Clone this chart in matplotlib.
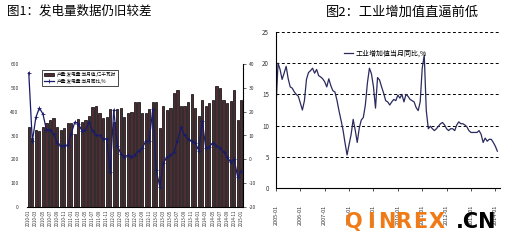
import matplotlib
matplotlib.use('Agg')
import matplotlib.pyplot as plt
import numpy as np

plt.rcParams['font.family'] = ['Noto Sans CJK SC', 'DejaVu Sans']
plt.rcParams['axes.unicode_minus'] = False

# ---- chart 1 data: monthly power generation (bars) and yoy growth (line)
gen_months = ['%d-%02d' % (2010 + m // 12, m % 12 + 1) for m in range(61)]
gen_output = [337, 290, 323, 319, 337, 351, 365, 375, 337, 323, 330, 351,
              351, 306, 368, 358, 365, 383, 421, 423, 393, 372, 379, 413,
              358, 413, 417, 379, 396, 400, 442, 442, 396, 396, 410, 440,
              442, 330, 424, 407, 417, 479, 493, 424, 424, 440, 475, 417,
              382, 451, 422, 437, 451, 507, 500, 451, 437, 444, 490, 365, 451]
gen_yoy = [36.4, 7.5, 17.6, 21.6, 19.0, 12.3, 12.5, 10.6, 7.0, 5.6, 5.8, 6.0,
           10.8, 15.6, 15.0, 12.0, 12.4, 15.6, 12.0, 10.0, 10.0, 8.6, 8.6, -5.3,
           20.8, 5.8, 2.4, 1.0, 1.7, 1.0, 2.0, 3.5, 4.6, 7.5, 7.5, 21.0,
           -4.6, -11.5, -1.7, 1.0, 1.8, 3.0, 7.9, 13.5, 10.0, 8.6, 7.5, 7.0,
           3.7, 16.2, 4.6, 5.3, 7.0, 5.8, 4.6, 3.2, 1.0, -1.1, 0.0, -7.4, -5.0]
gen_labels = ['产量:发电量:当月值,亿千瓦时', '产量:发电量:当月同比,%']

# ---- chart 2 data: industrial value added yoy, monthly from 2005-01
iva_yoy = [13.0, 20.0, 19.0, 17.4, 18.4, 19.5, 17.5, 16.2, 16.0, 15.4, 15.0, 14.7,
           13.6, 12.5, 14.0, 17.4, 18.5, 18.8, 19.2, 18.4, 19.0, 18.0, 17.8, 17.5,
           17.0, 16.2, 17.5, 16.4, 15.6, 15.4, 14.1, 12.4, 10.9, 9.3, 7.2, 5.3,
           7.0, 8.6, 11.0, 9.3, 7.3, 9.6, 10.9, 11.3, 13.3, 16.8, 19.2, 18.3,
           16.2, 12.8, 17.7, 17.3, 16.2, 15.2, 14.0, 13.8, 13.3, 13.8, 14.2, 14.0,
           14.9, 14.4, 15.0, 13.8, 15.0, 14.7, 14.2, 14.0, 13.8, 12.9, 12.4, 13.8,
           19.2, 21.3, 12.4, 9.5, 9.9, 9.5, 9.2, 9.5, 9.9, 10.3, 10.5, 10.1,
           9.5, 9.2, 9.5, 9.5, 9.2, 10.1, 10.6, 10.3, 10.3, 10.1, 9.8, 9.2,
           8.9, 8.9, 8.9, 8.9, 9.2, 8.6, 7.3, 8.0, 7.5, 7.8, 7.8, 7.3, 6.7, 5.9]
iva_ticks = ['%d-01' % y for y in range(2005, 2015)]
iva_label = '工业增加值当月同比,%'

fig = plt.figure(figsize=(5.14, 2.42), dpi=100)

# ---------------- left chart
ax = fig.add_axes([27 / 514, 35 / 242, 216 / 514, 143 / 242])
x = np.arange(len(gen_output))
bars = ax.bar(x, gen_output, width=0.62, color='#4e2c32', edgecolor='black',
              linewidth=0.5, label=gen_labels[0])
ax.set_xlim(-0.5, len(x) - 0.5)
ax.set_ylim(0, 600)
ax.set_yticks(range(0, 601, 100))
ax.set_xticks(x[::2])
ax.set_xticklabels(gen_months[::2], rotation=90, fontsize=3.2, color='#333333')
ax.tick_params(axis='y', labelsize=3.5, length=0, pad=6, colors='#333333')
ax.tick_params(axis='x', length=0, pad=2)
ax.spines['top'].set_visible(False)
ax.spines['left'].set_visible(False)
ax.spines['right'].set_visible(False)
ax.spines['bottom'].set_linewidth(0.6)

ax2 = ax.twinx()
line, = ax2.plot(x, gen_yoy, color='#1a1a6a', lw=0.9, marker='+', ms=3,
                 mew=0.6, label=gen_labels[1])
ax2.set_ylim(-20, 40)
ax2.set_yticks(range(-20, 41, 10))
ax2.tick_params(axis='y', labelsize=3.5, length=2, width=0.5, pad=2, colors='#333333')
ax2.spines['top'].set_visible(False)
ax2.spines['left'].set_visible(False)
ax2.spines['right'].set_linewidth(0.8)
leg = ax2.legend([bars, line], gen_labels, loc='upper left',
                 bbox_to_anchor=(0.06, 0.975), fontsize=3.3, frameon=True,
                 fancybox=False, borderpad=0.4, handlelength=2.2,
                 labelspacing=0.4, handletextpad=0.5, framealpha=1)
leg.get_frame().set_edgecolor('black')
leg.get_frame().set_linewidth(0.5)

fig.text(7 / 514, 1 - 11 / 242, '图1：发电量数据仍旧较差', fontsize=9,
         va='center', ha='left')

# ---------------- right chart
bx = fig.add_axes([276 / 514, 54 / 242, 224 / 514, 156 / 242])
m = np.arange(len(iva_yoy))
bx.plot(m, iva_yoy, color='#2a2a5e', lw=0.9, label=iva_label)
bx.set_xlim(0, 110.3)
bx.set_ylim(0, 25)
bx.set_yticks(range(0, 26, 5))
bx.set_xticks(range(0, 109, 12))
bx.set_xticklabels(iva_ticks, rotation=90, fontsize=4)
bx.tick_params(axis='x', length=2, width=0.6, pad=10, colors='#333333')
bx.tick_params(axis='y', labelsize=4.5, length=0, pad=5, colors='#333333')
bx.yaxis.grid(True, linestyle=(0, (3, 2.5)), color='black', lw=0.7)
bx.spines['top'].set_visible(False)
bx.spines['right'].set_visible(False)
bx.spines['left'].set_linewidth(0.8)
bx.spines['bottom'].set_linewidth(0.8)
bx.legend(loc='upper center', bbox_to_anchor=(0.49, 0.93), fontsize=5,
          frameon=False, handlelength=1.2, handletextpad=0.5)

fig.text(402 / 514, 1 - 12 / 242, '图2：工业增加值直逼前低', fontsize=9.5,
         va='center', ha='center')

# watermark (sits over the date labels, as in the source image)
for i, ch in enumerate('QINREX'):
    fig.text((354 + i * 16.5) / 514, 1 - 222 / 242, ch, color='#f07b16',
             fontsize=15, fontweight='bold', family='DejaVu Sans',
             ha='center', va='center', zorder=10)
fig.text(476 / 514, 1 - 222 / 242, '.CN', color='black', fontsize=15,
         fontweight='bold', family='DejaVu Sans', ha='center', va='center',
         zorder=10)

fig.savefig('out.png', dpi=100)
